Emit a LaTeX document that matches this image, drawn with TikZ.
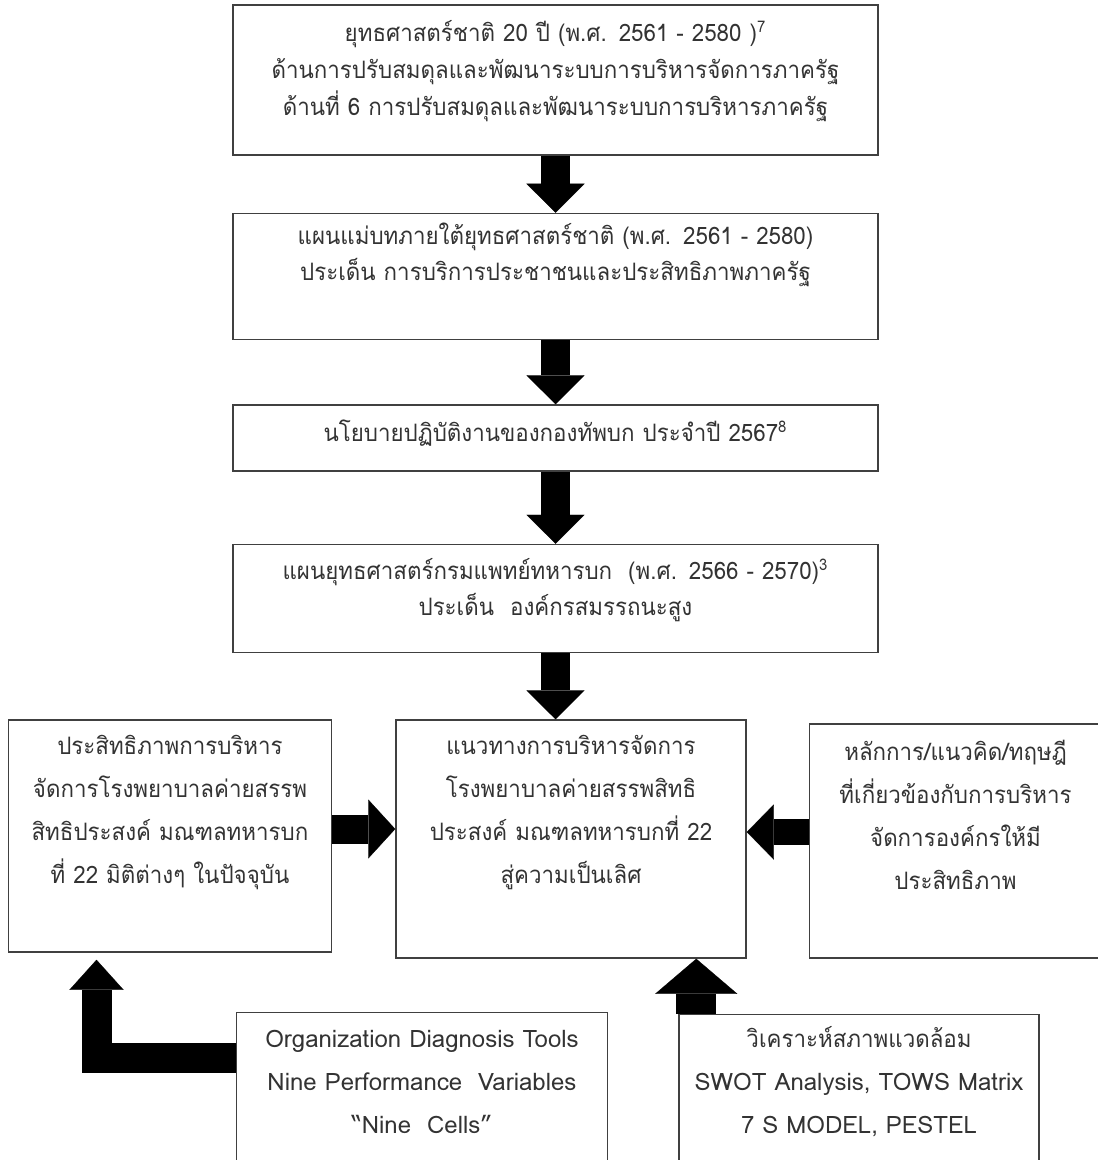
\documentclass[tikz,border=0pt]{standalone}
\usepackage{fontspec}
\setmainfont{Loma}[Script=Thai, FakeStretch=0.93]
\newfontfamily\latinfont{Loma}
\usetikzlibrary{positioning, arrows.meta}

\tikzset{
    box/.style={draw=black!75, line width=0.75pt, inner sep=0pt},
    txt/.style={align=center, text width=#1, inner sep=0pt, text=black!80, font=\fontsize{12}{18}\selectfont},
    txt/.default=320pt,
    txtwide/.style={txt=#1, font=\fontsize{12}{21.5}\selectfont},
    txtwide/.default=160pt,
    fat/.style={line width=14.5pt, -{Triangle[width=29pt, length=14.5pt, line width=0.1pt]}},
}

\begin{document}
\begin{tikzpicture}[x=0.5pt, y=-0.5pt]

    \useasboundingbox (0,0) rectangle (1097,1160);

    % chain of plans
    \node[box, minimum width=322.5pt, minimum height=75pt] (b1) at (555.5,80) {};
    \node[box, minimum width=322.5pt, minimum height=63pt, below=28.5pt of b1] (b2) {};
    \node[box, minimum width=322.5pt, minimum height=33pt, below=32pt of b2] (b3) {};
    \node[box, minimum width=322.5pt, minimum height=54pt, below=36pt of b3] (b4) {};

    % middle row
    \node[box, minimum width=175pt, minimum height=119pt, below=33pt of b4, xshift=7.75pt] (goal) {};
    \node[box, minimum width=161.5pt, minimum height=116pt, left=31.5pt of goal.north west, anchor=north east] (eff) {};
    \node[box, minimum width=146pt, minimum height=117pt, right=31pt of goal.north east, anchor=north west, yshift=-2pt] (theory) {};

    % tools
    \node[box, minimum width=185.5pt, minimum height=85pt, below right=29.5pt and 114pt of eff.south west, anchor=north west] (diag) {};
    \node[box, minimum width=180pt, minimum height=85pt, below right=27.5pt and 141.5pt of goal.south west, anchor=north west] (env) {};

    % texts
    \node[txt, font=\fontsize{12}{18.5}\selectfont, below=8pt of b1.north] (b1t) {ยุทธศาสตร์ชาติ 20 ปี (พ.ศ. 2561 - 2580 )\textsuperscript{7}\\
        ด้านการปรับสมดุลและพัฒนาระบบการบริหารจัดการภาครัฐ\\
        ด้านที่ 6 การปรับสมดุลและพัฒนาระบบการบริหารภาครัฐ};
    \node[txt, below=5pt of b2.north] (b2t) {แผนแม่บทภายใต้ยุทธศาสตร์ชาติ (พ.ศ. 2561 - 2580)\\
        ประเด็น การบริการประชาชนและประสิทธิภาพภาครัฐ};
    \node[txt, below=7.5pt of b3.north] (b3t) {นโยบายปฏิบัติงานของกองทัพบก ประจำปี 2567\textsuperscript{8}};
    \node[txt, below=7pt of b4.north] (b4t) {แผนยุทธศาสตร์กรมแพทย์ทหารบก~~(พ.ศ. 2566 - 2570)\textsuperscript{3}\\
        ประเด็น~~องค์กรสมรรถนะสูง};
    \node[txtwide, below=8pt of eff.north] (efft) {ประสิทธิภาพการบริหาร\\
        จัดการโรงพยาบาลค่ายสรรพ\\
        สิทธิประสงค์ มณฑลทหารบก\\
        ที่ 22 มิติต่างๆ ในปัจจุบัน};
    \node[txtwide=170pt, below=8pt of goal.north] (goalt) {แนวทางการบริหารจัดการ\\
        โรงพยาบาลค่ายสรรพสิทธิ\\
        ประสงค์ มณฑลทหารบกที่ 22\\
        สู่ความเป็นเลิศ};
    \node[txtwide=140pt, below=8.5pt of theory.north] (theoryt) {หลักการ/แนวคิด/ทฤษฎี\\
        ที่เกี่ยวข้องกับการบริหาร\\
        จัดการองค์กรให้มี\\
        ประสิทธิภาพ};
    \node[txtwide=180pt, below=9pt of diag.north] (diagt) {\latinfont Organization Diagnosis Tools\\
        Nine Performance~~Variables\\
        “Nine~~Cells”};
    \node[txtwide=175pt, below=6pt of env.north] (envt) {วิเคราะห์สภาพแวดล้อม\\
        {\latinfont SWOT Analysis, TOWS Matrix}\\
        {\latinfont 7 S MODEL, PESTEL}};

    % block arrows
    \coordinate (lbend) at (96.5,1057.5);

    \draw[fat] (b1) -- (b2);
    \draw[fat] (b2) -- (b3);
    \draw[fat] (b3) -- (b4);
    \draw[fat] (b4.south) -- (b4.south |- goal.north);
    \draw[fat, -{Triangle[width=29.5pt, length=13.5pt, line width=0.1pt]}]
        ([yshift=3.5pt]eff.east) -- ([yshift=3.5pt]eff.east -| goal.west);
    \draw[fat, line width=13pt, -{Triangle[width=27.5pt, length=13.5pt, line width=0.1pt]}]
        ([yshift=4.5pt]theory.west) -- ([yshift=4.5pt]theory.west -| goal.east);
    \draw[fat, line width=20pt, -{Triangle[width=41pt, length=17.5pt, line width=0.1pt]}]
        ([xshift=9pt]env.north west) -- ([xshift=9pt]env.north west |- goal.south);
    \draw[fat, line width=15pt, line join=miter, shorten >=3.5pt, -{Triangle[width=27pt, length=15pt, line width=0.1pt]}]
        (diag.west |- lbend) -- (lbend) -- (lbend |- eff.south);

\end{tikzpicture}
\end{document}
